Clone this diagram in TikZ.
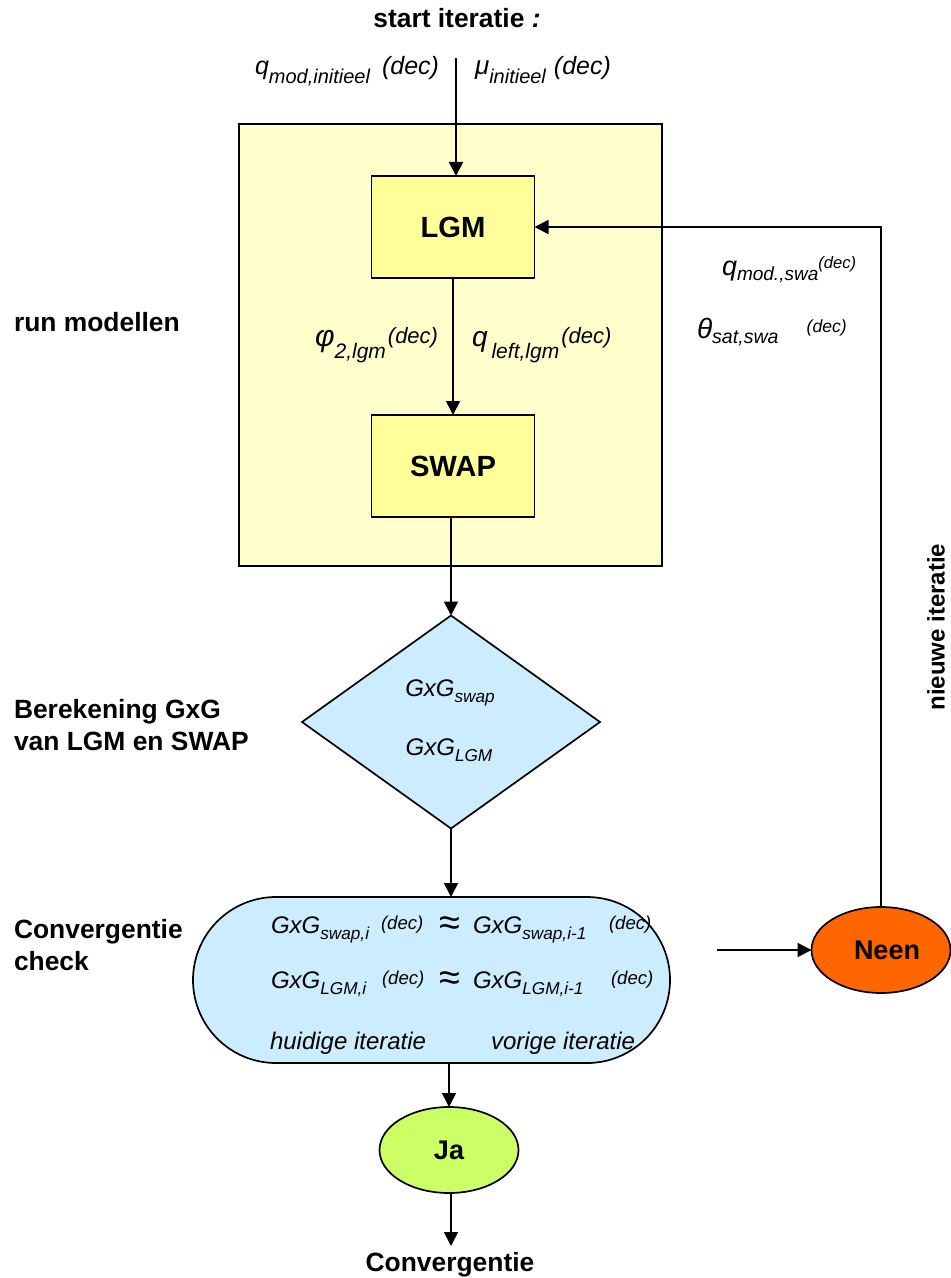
\documentclass[tikz,border=0pt]{standalone}
\usepackage{fontspec}
\setmainfont{Liberation Sans}
\usetikzlibrary{arrows.meta,shapes.geometric}
\newcommand\fsz[1]{\fontsize{#1}{#1}\selectfont}
% \shifted{raise}{size}{text}: a smaller index set above or below the baseline
\newcommand\shifted[3]{\raisebox{#1}{\fontsize{#2}{#2}\selectfont #3}}
\definecolor{panel}{HTML}{FFFFCC}
\definecolor{boxyellow}{HTML}{FFFF99}
\definecolor{paleblue}{HTML}{CCECFF}
\definecolor{limefill}{HTML}{CCFF66}
\definecolor{orangefill}{HTML}{FF6600}
\begin{document}
\begin{tikzpicture}[x=0.5pt,y=-0.5pt,
  every node/.style={inner sep=0pt, outer sep=0pt},
  lbl/.style={font=\bfseries\fontsize{13.2pt}{16pt}\selectfont},
  ital/.style={font=\itshape},
  arr/.style={-{Triangle[width=7pt,length=7pt]}, line width=0.85pt},
  box/.style={draw, line width=0.85pt, fill=boxyellow, minimum width=81.5pt,
    minimum height=51pt, font=\bfseries\fsz{14.6pt}}]
\useasboundingbox (0,0) rectangle (951,1278);

% model panel with the two model boxes
\node[draw, line width=0.85pt, fill=panel, minimum width=211.5pt, minimum height=221pt] (panel) at (450.5,345) {};
\node[box] (lgm) at (453,227) {LGM};
\node[box] (swap) at (453,466) {SWAP};

% decision and check shapes
\node[diamond, draw, line width=0.85pt, fill=paleblue, minimum width=149pt, minimum height=106.5pt] (dia) at (451,722) {};
\node[draw, line width=0.85pt, fill=paleblue, minimum width=238.5pt, minimum height=83pt, rounded corners=41.5pt] (conv) at (431.5,980) {};
\node[ellipse, draw, line width=0.85pt, fill=limefill, minimum width=69.5pt, minimum height=43pt, font=\bfseries\fsz{13.5pt}] (ja) at (449,1150) {Ja};
\node[ellipse, draw, line width=0.85pt, fill=orangefill, minimum width=69.5pt, minimum height=43pt, font=\bfseries\fsz{13.5pt}] (neen) at (881,950) {\hspace{6pt}Neen};

% titles
\node[lbl, anchor=base] (start) at (457,28) {start iteratie \textit{:}};
\node[lbl, anchor=base] (eind) at (450,1271) {Convergentie};
\node[lbl, anchor=base west] (runm) at (14,331) {run modellen};
\node[lbl, anchor=base west, align=left] (berek) at (14,750) {Berekening GxG\\van LGM en SWAP};
\node[lbl, anchor=base west, align=left] (check) at (14,970) {Convergentie\\check};
\node[font=\bfseries\fsz{12pt}, rotate=90] (nieuw) at (936,627) {nieuwe iteratie};

% input quantities
\node[ital, anchor=base west] (qmod) at (255,75) {\fsz{12.5pt}q\shifted{-4.5pt}{10pt}{mod,initieel}\hspace{6pt}(dec)};
\node[ital, anchor=base west] (mu) at (475,75) {\fsz{13pt}μ\shifted{-4.5pt}{10pt}{initieel}\hspace{4pt}\fsz{12.5pt}(dec)};

% exchanged quantities between the models
\node[ital, anchor=base west] (phi) at (315,346) {\fsz{15pt}φ\shifted{-6pt}{10.5pt}{2,lgm}\hspace{1pt}\shifted{1.5pt}{11pt}{(dec)}};
\node[ital, anchor=base west] (qleft) at (472,346) {\fsz{14pt}q\hspace{2pt}\shifted{-6pt}{10.5pt}{left,lgm}\hspace{1pt}\shifted{1.5pt}{11pt}{(dec)}};
\node[ital, anchor=base west] (qswa) at (722,276) {\fsz{13.5pt}q\shifted{-2.5pt}{9.5pt}{mod.,swa}\shifted{3.5pt}{8.3pt}{(dec)}};
\node[ital, anchor=base west] (theta) at (697,339) {\fsz{14pt}θ\shifted{-2pt}{9.8pt}{sat,swa}\hspace{14pt}\shifted{3pt}{8.8pt}{(dec)}};

% contents of the diamond
\node[ital, anchor=base] (gswap) at (450,696) {\fsz{12pt}GxG\shifted{-3pt}{8.6pt}{swap}};
\node[ital, anchor=base] (glgm) at (449,755) {\fsz{12pt}GxG\shifted{-3pt}{8.6pt}{LGM}};

% contents of the convergence check
\node[ital, anchor=base west] (c1a) at (271,933) {\fsz{12pt}GxG\shifted{-3pt}{8.6pt}{swap,i}};
\node[ital, anchor=base west] (c1b) at (381,929) {\fsz{9.3pt}(dec)};
\node[anchor=base west] (c1c) at (439,935) {\fsz{19pt}≈};
\node[ital, anchor=base west] (c1d) at (473,933) {\fsz{12pt}GxG\shifted{-3pt}{8.6pt}{swap,i-1}};
\node[ital, anchor=base west] (c1e) at (609,929) {\fsz{9.3pt}(dec)};
\node[ital, anchor=base west] (c2a) at (271,988) {\fsz{12pt}GxG\shifted{-3pt}{8.6pt}{LGM,i}};
\node[ital, anchor=base west] (c2b) at (382,984) {\fsz{9.3pt}(dec)};
\node[anchor=base west] (c2c) at (439,990) {\fsz{19pt}≈};
\node[ital, anchor=base west] (c2d) at (473,988) {\fsz{12pt}GxG\shifted{-3pt}{8.6pt}{LGM,i-1}};
\node[ital, anchor=base west] (c2e) at (611,984) {\fsz{9.3pt}(dec)};
\node[ital, anchor=base west] (c3a) at (270,1049) {\fsz{12pt}huidige iteratie};
\node[ital, anchor=base west] (c3b) at (491,1049) {\fsz{12pt}vorige iteratie};

% connectors
\coordinate (s0) at (456,58);
\draw[arr] (s0) -- (s0 |- lgm.north);
\draw[arr] (lgm.south) -- (swap.north);
\draw[arr] (dia.north |- swap.south) -- (dia.north);
\draw[arr] (dia.south) -- (dia.south |- conv.north);
\draw[arr] (ja.north |- conv.south) -- (ja.north);
\coordinate (e0) at (451,1246);
\draw[arr] (e0 |- ja.south) -- (e0);
\coordinate (n0) at (717,950);
\draw[arr] (n0) -- (neen.west);
\draw[arr] (neen.north) |- (lgm.east);
\end{tikzpicture}
\end{document}
